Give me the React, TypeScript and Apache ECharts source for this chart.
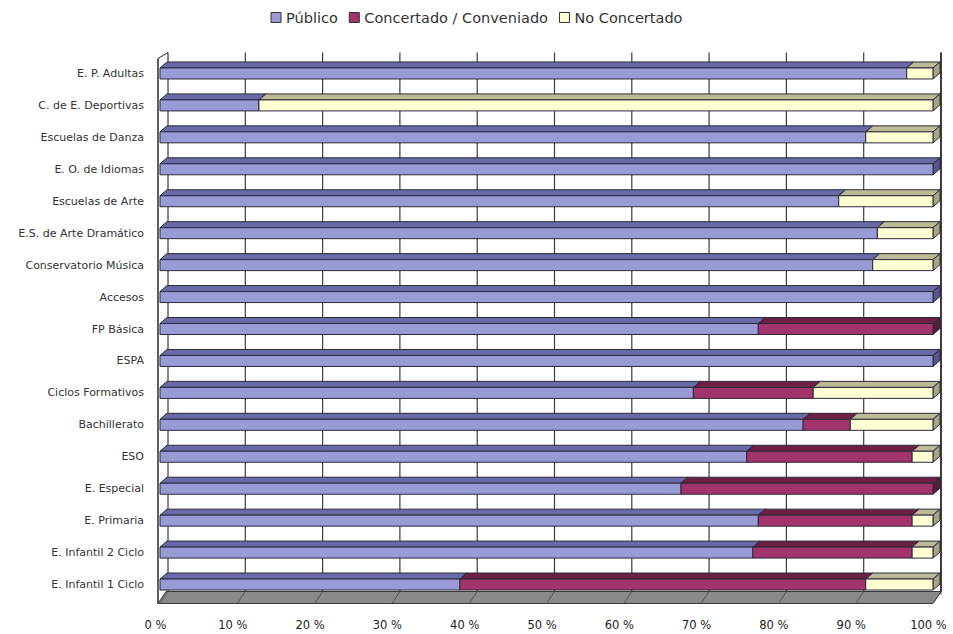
import React, { useEffect, useRef } from "react";
import * as echarts from "echarts";

const categories = [
  "E. P. Adultas",
  "C. de E. Deportivas",
  "Escuelas de Danza",
  "E. O. de Idiomas",
  "Escuelas de Arte",
  "E.S. de Arte Dramático",
  "Conservatorio Música",
  "Accesos",
  "FP Básica",
  "ESPA",
  "Ciclos Formativos",
  "Bachillerato",
  "ESO",
  "E. Especial",
  "E. Primaria",
  "E. Infantil 2 Ciclo",
  "E. Infantil 1 Ciclo",
];

const publico = [96.6, 12.8, 91.3, 100, 87.8, 92.8, 92.2, 100, 77.4, 100, 69.0, 83.2, 75.9, 67.4, 77.4, 76.7, 38.8];
const concertado = [0, 0, 0, 0, 0, 0, 0, 0, 22.6, 0, 15.5, 6.1, 21.4, 32.6, 19.9, 20.6, 52.5];
const noConcertado = [3.4, 87.2, 8.7, 0, 12.2, 7.2, 7.8, 0, 0, 0, 15.5, 10.7, 2.7, 0, 2.7, 2.7, 8.7];

const seriesNames = ["Público", "Concertado / Conveniado", "No Concertado"];
const xTicks = [0, 10, 20, 30, 40, 50, 60, 70, 80, 90, 100];

const FONT = "'DejaVu Sans', Verdana, sans-serif";
const DX = 7;
const DY = 6;
const H = 11;

function makeRender(front: string, top: string, side: string) {
  return (params: any, api: any) => {
    const cat = api.value(0);
    const s = api.value(1);
    const e = api.value(2);
    if (!(e - s > 0)) return null;
    const p0 = api.coord([s, cat]);
    const p1 = api.coord([e, cat]);
    const yc = p0[1];
    const yT = yc - H / 2;
    const yB = yc + H / 2;
    const x0 = p0[0];
    const x1 = p1[0];
    const stroke = "#2a2a3a";
    return {
      type: "group",
      children: [
        {
          type: "polygon",
          shape: { points: [[x0, yT], [x1, yT], [x1 + DX, yT - DY], [x0 + DX, yT - DY]] },
          style: { fill: top, stroke, lineWidth: 1 },
        },
        {
          type: "polygon",
          shape: { points: [[x1, yT], [x1 + DX, yT - DY], [x1 + DX, yB - DY], [x1, yB]] },
          style: { fill: side, stroke, lineWidth: 1 },
        },
        {
          type: "rect",
          shape: { x: x0, y: yT, width: x1 - x0, height: yB - yT },
          style: { fill: front, stroke, lineWidth: 1 },
        },
      ],
    };
  };
}

function frameRender(params: any, api: any) {
  const cs = params.coordSys;
  const bottom = cs.y + cs.height;
  const floorFront = bottom + 3;
  const floorBack = bottom - 9;
  const yTop = cs.y - 5;
  const x0 = api.coord([0, 0])[0];
  const x100 = api.coord([100, 0])[0];
  const children: any[] = [];
  children.push({
    type: "polygon",
    shape: { points: [[x0 - 2, floorFront], [x100, floorFront], [x100 + 8, floorBack], [x0 + 6, floorBack]] },
    style: { fill: "#8a8a8a", stroke: "#3a3a3a", lineWidth: 1 },
  });
  xTicks.forEach((v) => {
    const x = api.coord([v, 0])[0];
    children.push({
      type: "line",
      shape: { x1: x + 8, y1: yTop, x2: x + 8, y2: floorBack },
      style: { stroke: "#3c3c3c", lineWidth: 1.2 },
    });
    children.push({
      type: "line",
      shape: { x1: x + 8, y1: floorBack, x2: x, y2: floorFront },
      style: { stroke: "#555", lineWidth: 1 },
    });
  });
  children.push({
    type: "line",
    shape: { x1: x0 - 2, y1: cs.y + 1, x2: x0 - 2, y2: floorFront },
    style: { stroke: "#2a2a2a", lineWidth: 1.5 },
  });
  children.push({
    type: "line",
    shape: { x1: x0 - 2, y1: cs.y + 1, x2: x0 + 8, y2: yTop },
    style: { stroke: "#2a2a2a", lineWidth: 1 },
  });
  children.push({
    type: "line",
    shape: { x1: x100 + 8, y1: yTop, x2: x100 + 8, y2: floorBack },
    style: { stroke: "#2a2a2a", lineWidth: 1.6 },
  });
  children.push({
    type: "line",
    shape: { x1: x100 + 8, y1: floorBack, x2: x100 + 8, y2: floorBack + 3 },
    style: { stroke: "#2a2a2a", lineWidth: 1 },
  });
  return { type: "group", children };
}

function buildData(vals: number[], offsets: number[][]) {
  return vals.map((v, i) => {
    const start = offsets.reduce((acc, arr) => acc + arr[i], 0);
    return [i, start, start + v];
  });
}

export default function App() {
  const ref = useRef<HTMLDivElement>(null);
  useEffect(() => {
    if (!ref.current) return;
    const chart = echarts.init(ref.current, null, { renderer: "svg" });
    const option: any = {
      animation: false,
      backgroundColor: "#ffffff",
      legend: {
        data: seriesNames,
        top: 5,
        left: "center",
        icon: "rect",
        itemWidth: 10,
        itemHeight: 10,
        itemGap: 11,
        itemStyle: { borderColor: "#333", borderWidth: 1 },
        textStyle: { fontFamily: FONT, fontSize: 14.5, color: "#333" },
      },
      grid: { left: 160, right: 20, top: 57.5, bottom: 33.5, containLabel: false },
      xAxis: {
        type: "value",
        min: 0,
        max: 100,
        interval: 10,
        axisLine: { show: false },
        axisTick: { show: false },
        splitLine: { show: false },
        axisLabel: {
          formatter: "{value} %",
          fontFamily: FONT,
          fontSize: 11.5,
          color: "#222",
          margin: 18,
          padding: [0, 9, 0, 0],
        },
      },
      yAxis: {
        type: "category",
        data: categories,
        inverse: true,
        axisLine: { show: false },
        axisTick: { show: false },
        splitLine: { show: false },
        axisLabel: { fontFamily: FONT, fontSize: 11, color: "#333", margin: 16 },
      },
      series: [
        {
          type: "custom",
          name: "frame",
          silent: true,
          z: 1,
          renderItem: frameRender,
          data: [[0, 0]],
          encode: { x: 0, y: 1 },
        },
        {
          type: "custom",
          name: seriesNames[0],
          z: 2,
          itemStyle: { color: "#9a9ad6" },
          renderItem: makeRender("#9a9ad6", "#6a6aa8", "#565690"),
          data: buildData(publico, []),
          encode: { x: [1, 2], y: 0 },
        },
        {
          type: "custom",
          name: seriesNames[1],
          z: 2,
          itemStyle: { color: "#a3336c" },
          renderItem: makeRender("#a3336c", "#6e1f47", "#5a1a3a"),
          data: buildData(concertado, [publico]),
          encode: { x: [1, 2], y: 0 },
        },
        {
          type: "custom",
          name: seriesNames[2],
          z: 2,
          itemStyle: { color: "#ffffd4" },
          renderItem: makeRender("#ffffd4", "#bdbb96", "#a8a680"),
          data: buildData(noConcertado, [publico, concertado]),
          encode: { x: [1, 2], y: 0 },
        },
      ],
    };
    chart.setOption(option);
    return () => chart.dispose();
  }, []);
  return <div ref={ref} style={{ position: "fixed", left: 0, top: 0, width: 953, height: 634 }} />;
}
